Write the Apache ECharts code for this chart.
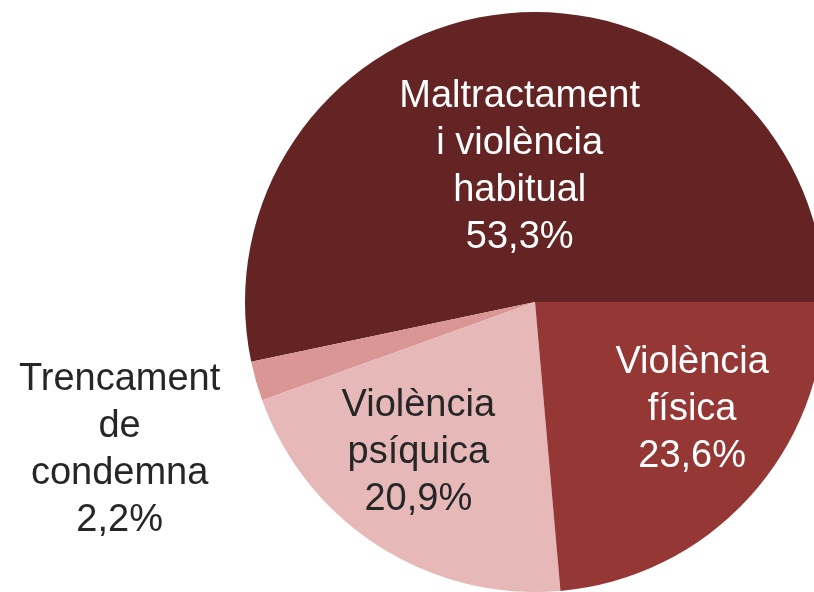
<!DOCTYPE html>
<html>
<head>
<meta charset="utf-8">
<script src="https://cdn.jsdelivr.net/npm/echarts@6/dist/echarts.min.js"></script>
<style>
html, body { margin: 0; padding: 0; background: #fff; }
#pie { width: 814px; height: 592px; }
</style>
</head>
<body>
<div id="pie"></div>
<script>
// Tipus de delicte (%)
var categories = ['Maltractament\ni violència\nhabitual', 'Trencament\nde\ncondemna', 'Violència\npsíquica', 'Violència\nfísica'];
var values = [53.3, 2.2, 20.9, 23.6];
var valueLabels = ['53,3%', '2,2%', '20,9%', '23,6%'];

var colors = ['#632423', '#D99694', '#E6B9B8', '#953735'];
var textColors = ['#ffffff', '#262626', '#262626', '#ffffff'];
// desplaçament de les etiquetes respecte la posició interior
var labelShift = [[0, 12], [-273, 108], [-37, 26], [48, 8]];

var pieData = [];
for (var i = 0; i < categories.length; i++) {
    pieData.push({
        name: categories[i],
        value: values[i],
        itemStyle: { color: colors[i] },
        label: { color: textColors[i] }
    });
}

var pieOption = {
    animation: false,
    series: [
        {
            type: 'pie',
            center: [535, 302],
            radius: [0, 290],
            startAngle: 0,
            clockwise: false,
            avoidLabelOverlap: false,
            label: {
                show: true,
                position: 'inside',
                fontFamily: '"Liberation Sans", Arial, sans-serif',
                fontSize: 38,
                lineHeight: 47,
                align: 'center',
                formatter: function (p) {
                    return p.name + '\n' + valueLabels[p.dataIndex];
                }
            },
            labelLine: { show: false },
            labelLayout: function (p) {
                return {
                    dx: labelShift[p.dataIndex][0],
                    dy: labelShift[p.dataIndex][1]
                };
            },
            data: pieData
        }
    ]
};

var pie = echarts.init(document.getElementById('pie'));
pie.setOption(pieOption);
</script>
</body>
</html>
